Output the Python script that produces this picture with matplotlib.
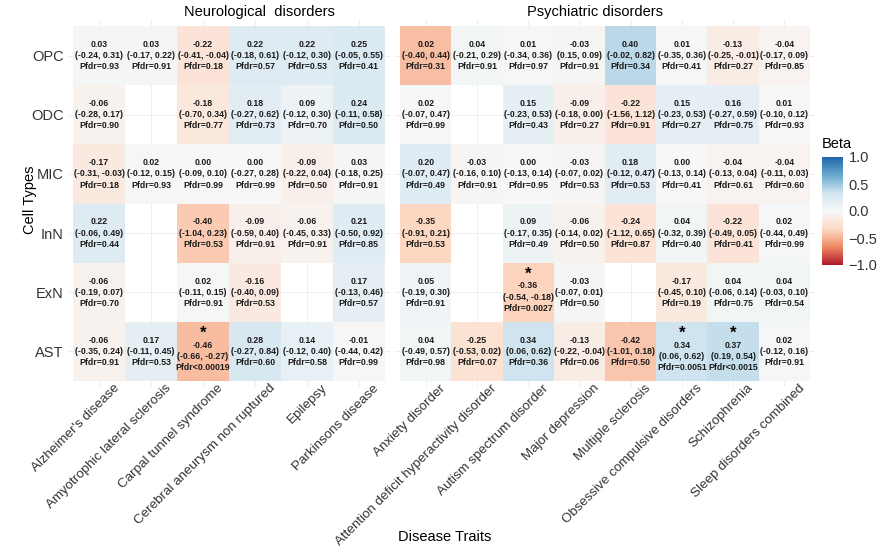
import numpy as np
import matplotlib
matplotlib.use("Agg")
import matplotlib.pyplot as plt
from matplotlib.colors import LinearSegmentedColormap, Normalize
from matplotlib.colorbar import ColorbarBase
from matplotlib.transforms import ScaledTranslation

plt.rcParams['font.family'] = ['Liberation Sans', 'DejaVu Sans']

# traits, split by facet
neuro = ["Alzheimer's disease", "Amyotrophic lateral sclerosis", "Carpal tunnel syndrome",
         "Cerebral aneurysm non ruptured", "Epilepsy", "Parkinsons disease"]
psych = ["Anxiety disorder", "Attention deficit hyperactivity disorder", "Autism spectrum disorder",
         "Major depression", "Multiple sclerosis", "Obsessive compulsive disorders",
         "Schizophrenia", "Sleep disorders combined"]
cells = ["OPC", "ODC", "MIC", "InN", "ExN", "AST"]

N = None
# rows = cells (top to bottom), columns = neuro + psych
beta = [
    [0.03, 0.03, -0.22, 0.22, 0.22, 0.25, 0.02, 0.04, 0.01, -0.03, 0.40, 0.01, -0.13, -0.04],
    [-0.06, N, -0.18, 0.18, 0.09, 0.24, 0.02, N, 0.15, -0.09, -0.22, 0.15, 0.16, 0.01],
    [-0.17, 0.02, 0.00, 0.00, -0.09, 0.03, 0.20, -0.03, 0.00, -0.03, 0.18, 0.00, -0.04, -0.04],
    [0.22, N, -0.40, -0.09, -0.06, 0.21, -0.35, N, 0.09, -0.06, -0.24, 0.04, -0.22, 0.02],
    [-0.06, N, 0.02, -0.16, N, 0.17, 0.05, N, -0.36, -0.03, N, -0.17, 0.04, 0.04],
    [-0.06, 0.17, -0.46, 0.28, 0.14, -0.01, 0.04, -0.25, 0.34, -0.13, -0.42, 0.34, 0.37, 0.02],
]
ci_lo = [
    [-0.24, -0.17, -0.41, -0.18, -0.12, -0.05, -0.40, -0.21, -0.34, 0.15, -0.02, -0.35, -0.25, -0.17],
    [-0.28, N, -0.70, -0.27, -0.12, -0.11, -0.07, N, -0.23, -0.18, -1.56, -0.23, -0.27, -0.10],
    [-0.31, -0.12, -0.09, -0.27, -0.22, -0.18, -0.07, -0.16, -0.13, -0.07, -0.12, -0.13, -0.13, -0.11],
    [-0.06, N, -1.04, -0.59, -0.45, -0.50, -0.91, N, -0.17, -0.14, -1.12, -0.32, -0.49, -0.44],
    [-0.19, N, -0.11, -0.40, N, -0.13, -0.19, N, -0.54, -0.07, N, -0.45, -0.06, -0.03],
    [-0.35, -0.11, -0.66, -0.27, -0.12, -0.44, -0.49, -0.53, 0.06, -0.22, -1.01, 0.06, 0.19, -0.12],
]
ci_hi = [
    [0.31, 0.22, -0.04, 0.61, 0.30, 0.55, 0.44, 0.29, 0.36, 0.09, 0.82, 0.36, -0.01, 0.09],
    [0.17, N, 0.34, 0.62, 0.30, 0.58, 0.47, N, 0.53, 0.00, 1.12, 0.53, 0.59, 0.12],
    [-0.03, 0.15, 0.10, 0.28, 0.04, 0.25, 0.47, 0.10, 0.14, 0.02, 0.47, 0.14, 0.04, 0.03],
    [0.49, N, 0.23, 0.40, 0.33, 0.92, 0.21, N, 0.35, 0.02, 0.65, 0.39, 0.05, 0.49],
    [0.07, N, 0.15, 0.09, N, 0.46, 0.30, N, -0.18, 0.01, N, 0.10, 0.14, 0.10],
    [0.24, 0.45, -0.27, 0.84, 0.40, 0.42, 0.57, 0.02, 0.62, -0.04, 0.18, 0.62, 0.54, 0.16],
]
pfdr = [
    ["0.93", "0.91", "0.18", "0.57", "0.53", "0.41", "0.31", "0.91", "0.97", "0.91", "0.34", "0.41", "0.27", "0.85"],
    ["0.90", N, "0.77", "0.73", "0.70", "0.50", "0.99", N, "0.43", "0.27", "0.91", "0.27", "0.75", "0.93"],
    ["0.18", "0.93", "0.99", "0.99", "0.50", "0.91", "0.49", "0.91", "0.95", "0.53", "0.53", "0.41", "0.61", "0.60"],
    ["0.44", N, "0.53", "0.91", "0.91", "0.85", "0.53", N, "0.49", "0.50", "0.87", "0.40", "0.41", "0.99"],
    ["0.70", N, "0.91", "0.53", N, "0.57", "0.91", N, "0.0027", "0.50", N, "0.19", "0.75", "0.54"],
    ["0.91", "0.53", "<0.00019", "0.60", "0.58", "0.99", "0.98", "0.07", "0.36", "0.06", "0.50", "0.0051", "<0.0015", "0.91"],
]
# significant cells (row, column)
stars = [(5, 2), (4, 8), (5, 11), (5, 12)]

# tile fill follows beta, except the anxiety/OPC tile which is drawn red in the source
fill = [[np.nan if v is None else v for v in row] for row in beta]
fill[0][6] = -0.45

cmap = LinearSegmentedColormap.from_list(
    "rdbu7", ['#B2182B', '#EF8A62', '#FDDBC7', '#F7F7F7', '#D1E5F0', '#67A9CF', '#2166AC'])
norm = Normalize(-1, 1)

W, H = 890, 554
fig = plt.figure(figsize=(W / 100, H / 100), dpi=100)

top, bot = 20, 387
ax_n = fig.add_axes([68 / W, 1 - bot / H, 322 / W, (bot - top) / H])
ax_p = fig.add_axes([395 / W, 1 - bot / H, 420 / W, (bot - top) / H])

fill = np.array(fill, dtype=float)
shift = ScaledTranslation(0.14, 0.09, fig.dpi_scale_trans)
panels = [(ax_n, neuro, 0), (ax_p, psych, len(neuro))]
for ax, traits, off in panels:
    n = len(traits)
    sub = np.ma.masked_invalid(fill[:, off:off + n])
    ax.set_xticks(range(n))
    ax.set_yticks(range(len(cells)))
    ax.grid(True, color='#EBEBEB', lw=0.6, zorder=0)
    ax.set_axisbelow(True)
    ax.pcolormesh(np.arange(n + 1) - 0.5, np.arange(len(cells) + 1) - 0.5, sub,
                  cmap=cmap, norm=norm, zorder=1)
    ax.set_xlim(-0.6, n - 0.4)
    ax.set_ylim(len(cells) - 0.4, -0.6)
    for s in ax.spines.values():
        s.set_visible(False)
    ax.tick_params(length=0, pad=3)
    ax.set_xticklabels(traits, rotation=45, ha='right', va='top', rotation_mode='anchor',
                       fontsize=9.6, color='#333333')
    for lab in ax.get_xticklabels():
        lab.set_transform(lab.get_transform() + shift)
    if off == 0:
        ax.set_yticklabels(cells, fontsize=10.5, color='#333333')
    else:
        ax.set_yticklabels([])

    for i in range(len(cells)):
        for j in range(n):
            b = beta[i][off + j]
            if b is None:
                continue
            p = pfdr[i][off + j]
            ptxt = "Pfdr" + (p if p.startswith("<") else "=" + p)
            label = f"{b:.2f}\n({ci_lo[i][off + j]:.2f}, {ci_hi[i][off + j]:.2f})\n{ptxt}"
            dy = 0.0
            if (i, off + j) in stars:
                dy = 0.08
                ax.text(j, i - 0.31, "*", ha='center', va='center', fontsize=12,
                        fontweight='bold', zorder=3)
            ax.text(j, i + dy, label, ha='center', va='center', fontsize=6.3,
                    fontweight='bold', linespacing=1.3, zorder=3, color='#1a1a1a')

fig.text(259 / W, 1 - 12 / H, "Neurological  disorders", ha='center', va='center', fontsize=10.5)
fig.text(595 / W, 1 - 12 / H, "Psychiatric disorders", ha='center', va='center', fontsize=10.5)
fig.text(30 / W, 1 - 200 / H, "Cell Types", rotation=90, ha='center', va='center', fontsize=10.5)
fig.text(445 / W, 1 - 537 / H, "Disease Traits", ha='center', va='center', fontsize=10.5)

cax = fig.add_axes([822 / W, 1 - 265 / H, 21 / W, 108 / H])
cb = ColorbarBase(cax, cmap=cmap, norm=norm, ticks=[-1, -0.5, 0, 0.5, 1])
cb.outline.set_visible(False)
cb.ax.tick_params(length=0, labelsize=10.5, colors='#333333', pad=4)
cb.ax.set_yticklabels(["\u22121.0", "\u22120.5", "0.0", "0.5", "1.0"])
fig.text(822 / W, 1 - 144 / H, "Beta", ha='left', va='center', fontsize=10.5)

fig.savefig("out.png", dpi=100)
